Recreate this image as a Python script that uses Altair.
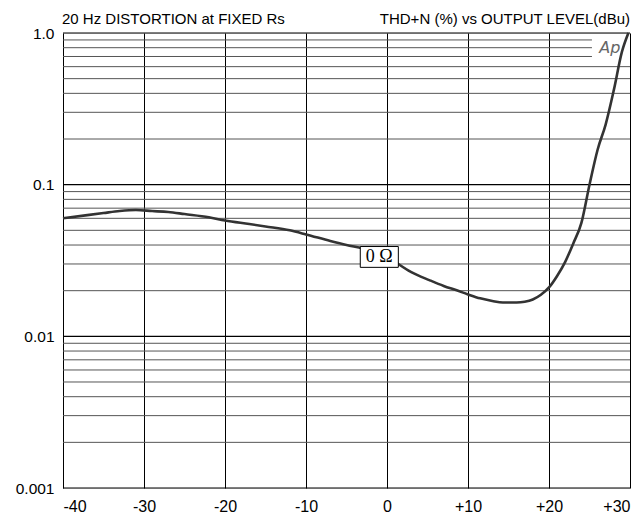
import altair as alt
import pandas as pd

# Curve data: output level (dBu) vs THD+N (%)
level = [-40, -37, -35, -33, -31, -29, -27, -25, -22, -20, -17, -15, -12, -10, -7, -5, -3, -1, 0, 1.4, 3, 5.3, 7, 8.6, 10, 11.5, 13, 14.3, 16, 17, 18, 19, 20, 21, 22, 23, 24, 25, 26, 27, 28, 29, 29.8]
thd = [0.060, 0.063, 0.065, 0.067, 0.068, 0.067, 0.066, 0.064, 0.061, 0.058, 0.055, 0.053, 0.050, 0.047, 0.0425, 0.040, 0.038, 0.0355, 0.034, 0.030, 0.0265, 0.0234, 0.0215, 0.0201, 0.0189, 0.0178, 0.0171, 0.0167, 0.0167, 0.0169, 0.0175, 0.0188, 0.021, 0.025, 0.031, 0.041, 0.056, 0.10, 0.17, 0.25, 0.42, 0.75, 1.0]

x_ticks = [-40, -30, -20, -10, 0, 10, 20, 30]
y_ticks = [0.001, 0.01, 0.1, 1.0]
minor_grid = [k * 10 ** e for e in (-3, -2, -1) for k in range(2, 10)]

title_left = "20 Hz DISTORTION at FIXED Rs"
title_right = "THD+N (%) vs OUTPUT LEVEL(dBu)"
curve_label = "0 Ω"
logo = "Ap"

FONT = "Liberation Sans"

xs = alt.Scale(domain=[-40, 30], nice=False, zero=False)
ys = alt.Scale(type="log", domain=[0.001, 1.0], nice=False)

curve_df = pd.DataFrame({"level": level, "thd": thd})
minor_df = pd.DataFrame({"v": minor_grid})
major_df = pd.DataFrame({"v": y_ticks})

base_axes = alt.Chart(curve_df).mark_line(opacity=0).encode(
    x=alt.X("level:Q", scale=xs,
            axis=alt.Axis(values=x_ticks, title=None, grid=True, gridColor="black",
                          gridOpacity=1, gridWidth=1, ticks=False, domain=False,
                          labelFont=FONT, labelFontSize=16, labelColor="black",
                          labelPadding=10,
                          labelExpr="datum.value > 0 ? '+' + datum.value : '' + datum.value")),
    y=alt.Y("thd:Q", scale=ys,
            axis=alt.Axis(values=y_ticks, title=None, grid=False, ticks=False, domain=False,
                          labelFont=FONT, labelFontSize=15.5, labelColor="black",
                          labelPadding=9,
                          labelExpr="datum.value >= 0.99 ? '1.0' : datum.value >= 0.099 ? '0.1' : datum.value >= 0.0099 ? '0.01' : '0.001'")),
)

minor = alt.Chart(minor_df).mark_rule(color="#555555", strokeWidth=1).encode(
    y=alt.Y("v:Q", scale=ys)
)
major = alt.Chart(major_df).mark_rule(color="black", strokeWidth=1.2).encode(
    y=alt.Y("v:Q", scale=ys)
)

logo_df = pd.DataFrame({"x": [25.3], "x2": [30], "y": [0.66], "y2": [0.97]})
logo_bg = alt.Chart(logo_df).mark_rect(color="white").encode(
    x=alt.X("x:Q", scale=xs), x2="x2:Q", y=alt.Y("y:Q", scale=ys), y2="y2:Q"
)
logo_text = alt.Chart(pd.DataFrame({"x": [26.2], "y": [0.8], "t": [logo]})).mark_text(
    font="DejaVu Sans", fontStyle="italic", fontSize=16, color="#666666",
    align="left", baseline="middle", fontWeight=300
).encode(x=alt.X("x:Q", scale=xs), y=alt.Y("y:Q", scale=ys), text="t:N")

line = alt.Chart(curve_df).mark_line(color="#333333", strokeWidth=2.6, interpolate="monotone").encode(
    x=alt.X("level:Q", scale=xs), y=alt.Y("thd:Q", scale=ys)
)

box_df = pd.DataFrame({"x": [-3.3], "x2": [1.4], "y": [0.0285], "y2": [0.0391]})
box = alt.Chart(box_df).mark_rect(fill="white", stroke="black", strokeWidth=1).encode(
    x=alt.X("x:Q", scale=xs), x2="x2:Q", y=alt.Y("y:Q", scale=ys), y2="y2:Q"
)
box_text = alt.Chart(pd.DataFrame({"x": [-0.95], "y": [0.0334], "t": [curve_label]})).mark_text(
    font="Liberation Serif", fontSize=18, color="black", align="center", baseline="middle"
).encode(x=alt.X("x:Q", scale=xs), y=alt.Y("y:Q", scale=ys), text="t:N")

titles_df = pd.DataFrame({"x": [-40, 30], "t": [title_left, title_right]})
title_l = alt.Chart(titles_df.iloc[[0]]).mark_text(
    font=FONT, fontSize=15, color="black", align="left", baseline="alphabetic", dx=-1
).encode(x=alt.X("x:Q", scale=xs), y=alt.value(-9), text="t:N")
title_r = alt.Chart(titles_df.iloc[[1]]).mark_text(
    font=FONT, fontSize=15, color="black", align="right", baseline="alphabetic"
).encode(x=alt.X("x:Q", scale=xs), y=alt.value(-9), text="t:N")

chart = alt.layer(
    base_axes, minor, major, logo_bg, logo_text, line, box, box_text, title_l, title_r
).properties(
    width=567, height=455,
    autosize=alt.AutoSizeParams(type="none"),
    padding={"left": 55, "top": 25, "right": 5, "bottom": 25},
).configure_view(stroke="black", strokeWidth=1.5).configure(background="white")

chart.save("out.html", embed_options={"renderer": "svg", "actions": False})
